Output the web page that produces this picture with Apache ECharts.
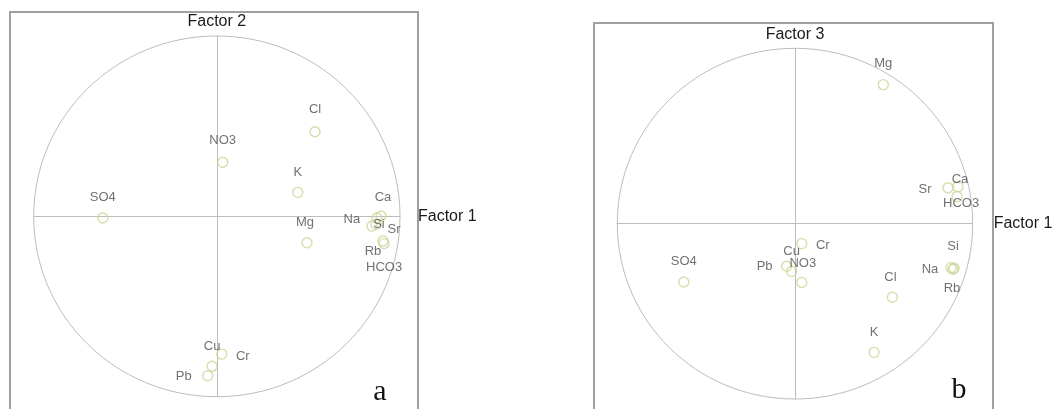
<!DOCTYPE html>
<html>
<head>
<meta charset="utf-8">
<script src="https://cdn.jsdelivr.net/npm/echarts@6/dist/echarts.min.js"></script>
<style>
html,body{margin:0;padding:0;background:#fff;}
#chart{width:1056px;height:409px;}
</style>
</head>
<body>
<div id="chart"></div>
<script>
// ---- Data: panel a (Factor 1 vs Factor 2) ----
const elementsA = ['Cl','NO3','K','SO4','Mg','Ca','Na','Si','Sr','Rb','HCO3','Cr','Cu','Pb'];
const factor1A  = [0.536, 0.032, 0.442, -0.623, 0.492, 0.896, 0.874, 0.847, 0.869, 0.907, 0.913, 0.027, -0.026, -0.050];
const factor2A  = [0.469, 0.300, 0.133, -0.009, -0.146, 0.002, -0.009, -0.054, -0.043, -0.137, -0.151, -0.764, -0.831, -0.884];

// ---- Data: panel b (Factor 1 vs Factor 3) ----
const elementsB = ['Mg','Sr','Ca','HCO3','Na','Si','Rb','Cl','K','SO4','Cr','Pb','Cu','NO3'];
const factor1B  = [0.497, 0.861, 0.917, 0.912, 0.878, 0.895, 0.889, 0.548, 0.445, -0.626, 0.038, -0.047, -0.019, 0.038];
const factor3B  = [0.793, 0.205, 0.211, 0.154, -0.251, -0.254, -0.260, -0.420, -0.734, -0.333, -0.114, -0.243, -0.272, -0.335];

// ---- Label placement (layout only, pixels) ----
const labelOffsetA = {Cl:[0,-22],NO3:[0,-22],K:[0,-20],SO4:[0,-21],Mg:[-2,-20],Ca:[2,-19],Na:[-25,1],Si:[7,-2],Sr:[18,5],Rb:[-10,10],HCO3:[0,24],Cr:[21,2],Cu:[0,-20],Pb:[-24,1]};
const labelOffsetB = {Mg:[0,-21],Sr:[-23,2],Ca:[2,-7],HCO3:[4,7],Na:[-21,2],Si:[-1,-22],Rb:[-1,19],Cl:[-2,-20],K:[0,-20],SO4:[0,-21],Cr:[21,2],Pb:[-22,0],Cu:[0,-20],NO3:[1,-19]};

const chart = echarts.init(document.getElementById('chart'), null, {renderer:'canvas'});

const lineColor = '#bdbdbd';
const markerColor = '#cdd496';
const labelColor = '#4d4d4d';
const font = 'Liberation Sans, Arial, sans-serif';

function axis(name, gap, isX, padTop){
  return {
    type:'value', min:-1, max:1,
    name:name, nameLocation:'end', nameGap:gap,
    nameTextStyle:{color:'#1a1a1a', fontSize:16, fontFamily:font, verticalAlign: isX ? 'middle' : 'bottom', align: isX ? 'left' : 'center', padding: padTop || 0},
    axisLine:{show:true, onZero:true, lineStyle:{color:lineColor, width:1}},
    axisTick:{show:false}, axisLabel:{show:false}, splitLine:{show:false}
  };
}

function pts(names, xs, ys, offsets){
  return names.map((n,i)=>({
    name:n, value:[xs[i], ys[i]],
    label:{offset: offsets[n]}
  }));
}

function circleSeries(idx){
  return {
    type:'custom', xAxisIndex:idx, yAxisIndex:idx, silent:true, z:1,
    data:[[0,0]],
    renderItem:function(params, api){
      const c = api.coord([api.value(0), api.value(1)]);
      const s = api.size([1,1]);
      return {type:'ellipse', shape:{cx:c[0], cy:c[1], rx:s[0], ry:s[1]},
              style:{fill:'none', stroke:lineColor, lineWidth:1}};
    }
  };
}

function scatterSeries(idx, data){
  return {
    type:'scatter', xAxisIndex:idx, yAxisIndex:idx, z:3,
    symbol:'circle', symbolSize:10,
    itemStyle:{color:'rgba(255,255,255,0)', borderColor:markerColor, borderWidth:1.4},
    label:{show:true, position:'inside', formatter:'{b}', color:labelColor, fontSize:13, fontFamily:font},
    data:data
  };
}

chart.setOption({
  animation:false,
  backgroundColor:'#ffffff',
  grid:[
    {left:33.7, top:36, width:366.3, height:360.7},
    {left:617.3, top:48.3, width:355.4, height:350.7}
  ],
  xAxis:[axis('Factor 1', 18, true, [5,0,0,0]), Object.assign(axis('Factor 1', 21, true, [0,0,4,0]), {gridIndex:1})],
  yAxis:[axis('Factor 2', 6, false), Object.assign(axis('Factor 3', 6, false), {gridIndex:1})],
  graphic:[
    {type:'rect', shape:{x:10, y:12, width:408, height:430}, style:{fill:'none', stroke:'#a0a0a0', lineWidth:2}, z:0},
    {type:'rect', shape:{x:594, y:23, width:399, height:430}, style:{fill:'none', stroke:'#a0a0a0', lineWidth:2}, z:0},
    {type:'text', x:380, y:392, style:{text:'a', fontSize:30, fontFamily:'Liberation Serif, Times New Roman, serif', fill:'#111', align:'center', verticalAlign:'middle'}},
    {type:'text', x:959, y:390, style:{text:'b', fontSize:30, fontFamily:'Liberation Serif, Times New Roman, serif', fill:'#111', align:'center', verticalAlign:'middle'}}
  ],
  series:[
    circleSeries(0),
    scatterSeries(0, pts(elementsA, factor1A, factor2A, labelOffsetA)),
    circleSeries(1),
    scatterSeries(1, pts(elementsB, factor1B, factor3B, labelOffsetB))
  ]
});
</script>
</body>
</html>
